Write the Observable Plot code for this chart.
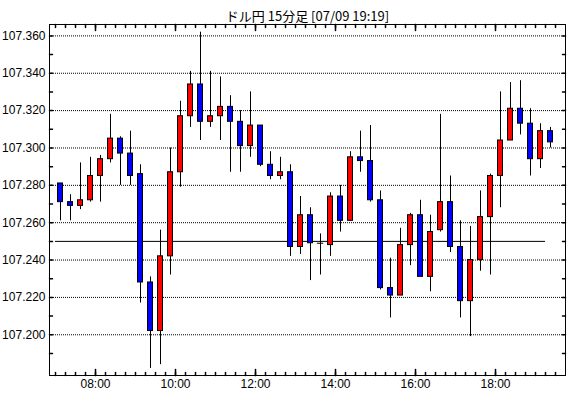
<!DOCTYPE html>
<html><head><meta charset="utf-8">
<script src="https://cdn.jsdelivr.net/npm/d3@7"></script>
<script src="https://cdn.jsdelivr.net/npm/@observablehq/plot@0.6"></script>
<style>
html,body{margin:0;padding:0;background:#fff;}
#chart svg{display:block;}
</style></head><body><div id="chart"></div>
<script>
const title = "ドル円 15分足 [07/09 19:19]";
const times = ["07:00","07:15","07:30","07:45","08:00","08:15","08:30","08:45","09:00","09:15",
  "09:30","09:45","10:00","10:15","10:30","10:45","11:00","11:15","11:30","11:45",
  "12:00","12:15","12:30","12:45","13:00","13:15","13:30","13:45","14:00","14:15",
  "14:30","14:45","15:00","15:15","15:30","15:45","16:00","16:15","16:30","16:45",
  "17:00","17:15","17:30","17:45","18:00","18:15","18:30","18:45","19:00","19:15"];
const opens = [107.281,107.271,107.269,107.272,107.285,107.294,107.305,107.297,107.286,107.228,
  107.202,107.242,107.287,107.317,107.334,107.314,107.317,107.322,107.314,107.301,
  107.312,107.291,107.285,107.287,107.247,107.264,107.249,107.248,107.274,107.261,
  107.295,107.293,107.272,107.225,107.221,107.248,107.264,107.231,107.256,107.271,
  107.247,107.218,107.240,107.263,107.285,107.304,107.321,107.313,107.294,107.309];
const highs = [107.281,107.275,107.292,107.295,107.296,107.318,107.306,107.309,107.291,107.231,
  107.256,107.300,107.325,107.341,107.362,107.341,107.338,107.328,107.320,107.330,
  107.312,107.298,107.295,107.291,107.274,107.268,107.254,107.276,107.280,107.298,
  107.309,107.312,107.277,107.241,107.257,107.265,107.272,107.264,107.318,107.285,
  107.261,107.258,107.277,107.286,107.330,107.335,107.336,107.321,107.313,107.311];
const lows = [107.261,107.261,107.267,107.271,107.271,107.292,107.280,107.280,107.217,107.182,
  107.184,107.232,107.279,107.311,107.304,107.311,107.304,107.287,107.287,107.295,
  107.290,107.283,107.283,107.242,107.243,107.229,107.232,107.242,107.255,107.261,
  107.287,107.271,107.224,107.209,107.221,107.237,107.231,107.223,107.255,107.244,
  107.209,107.199,107.234,107.232,107.268,107.304,107.307,107.285,107.289,107.300];
const closes = [107.271,107.269,107.272,107.285,107.294,107.305,107.297,107.285,107.228,107.202,
  107.242,107.287,107.317,107.334,107.314,107.317,107.322,107.314,107.301,107.312,
  107.291,107.285,107.287,107.247,107.264,107.249,107.249,107.274,107.261,107.295,
  107.293,107.272,107.225,107.221,107.248,107.264,107.231,107.255,107.271,107.247,
  107.218,107.240,107.263,107.285,107.304,107.321,107.313,107.294,107.309,107.303];
const yTickLabels = ["107.200","107.220","107.240","107.260","107.280","107.300","107.320","107.340","107.360"];
const xTickLabels = ["08:00","10:00","12:00","14:00","16:00","18:00"];
const refLevel = 107.250;
const refStart = "07:00", refEnd = "19:15";
const xStart = "06:51", xEnd = "19:45";
const yDomain = [107.1782, 107.3661];

const toMin = s => { const [h, m] = s.split(":").map(Number); return h * 60 + m; };
const candles = times.map((t, i) => ({
  mid: toMin(t) + 7.5, open: opens[i], high: highs[i], low: lows[i], close: closes[i]
}));
const bodies = candles.filter(d => d.open !== d.close);
const dojis = candles.filter(d => d.open === d.close);
const yTicks = yTickLabels.map(Number);
const yMinor = d3.range(19, 37).map(k => +(107 + k / 100).toFixed(2));
const xMajor = xTickLabels.map(toMin);
const xMinor = d3.range(toMin("07:00"), toMin("19:30") + 1, 15);
const labelOf = new Map(xTickLabels.map(s => [toMin(s), s]));
const lineShape = {draw(ctx, l) { ctx.moveTo(0, 0); ctx.lineTo(0, -l); }};
const HW = 3.75;

const chart = Plot.plot({
  width: 570, height: 398,
  marginLeft: 49, marginRight: 5, marginTop: 24, marginBottom: 23,
  style: {fontFamily: "Liberation Sans, Arial, sans-serif", fontSize: "12px", background: "#fff", color: "#000"},
  x: {domain: [toMin(xStart), toMin(xEnd)], label: null},
  y: {domain: yDomain, label: null},
  color: {type: "identity"},
  marks: [
    Plot.gridY(yTicks, {stroke: "#000", strokeOpacity: 1, strokeDasharray: "1,1"}),
    Plot.ruleY([refLevel], {x1: toMin(refStart), x2: toMin(refEnd), stroke: "#000", strokeWidth: 1}),
    Plot.ruleX(candles, {x: "mid", y1: "low", y2: "high", stroke: "#000", strokeWidth: 1}),
    Plot.rect(bodies, {x1: d => d.mid - HW, x2: d => d.mid + HW, y1: "open", y2: "close",
      fill: d => d.close > d.open ? "#ff0000" : "#0000ff", stroke: "#000", strokeWidth: 1}),
    Plot.ruleY(dojis, {y: "open", x1: d => d.mid - HW - 1, x2: d => d.mid + HW + 1, stroke: "#000"}),
    Plot.vector(yMinor, {y: d => d, frameAnchor: "left", rotate: 90, length: 3, anchor: "start", shape: lineShape, stroke: "#000"}),
    Plot.vector(yMinor, {y: d => d, frameAnchor: "right", rotate: -90, length: 3, anchor: "start", shape: lineShape, stroke: "#000"}),
    Plot.vector(xMinor, {x: d => d, frameAnchor: "bottom", rotate: 0, length: 3, anchor: "start", shape: lineShape, stroke: "#000"}),
    Plot.vector(xMinor, {x: d => d, frameAnchor: "top", rotate: 180, length: 3, anchor: "start", shape: lineShape, stroke: "#000"}),
    Plot.vector(xMajor, {x: d => d, frameAnchor: "bottom", rotate: 0, length: 6, anchor: "start", shape: lineShape, stroke: "#000"}),
    Plot.vector(xMajor, {x: d => d, frameAnchor: "top", rotate: 180, length: 6, anchor: "start", shape: lineShape, stroke: "#000"}),
    Plot.axisY(yTicks, {anchor: "left", tickSize: 0, tickPadding: 4, label: null,
      tickFormat: d => yTickLabels[yTicks.indexOf(d)], fontSize: 12}),
    Plot.axisX(xMajor, {anchor: "bottom", tickSize: 0, tickPadding: 4, label: null,
      tickFormat: d => labelOf.get(d), fontSize: 12}),
    Plot.frame({stroke: "#000", strokeWidth: 1}),
    Plot.text([title], {text: d => d, frameAnchor: "top", dy: -13, fontSize: 13,
      fontFamily: "Noto Sans CJK JP", fill: "#000"})
  ]
});
document.getElementById("chart").appendChild(chart);
</script>
</body></html>
